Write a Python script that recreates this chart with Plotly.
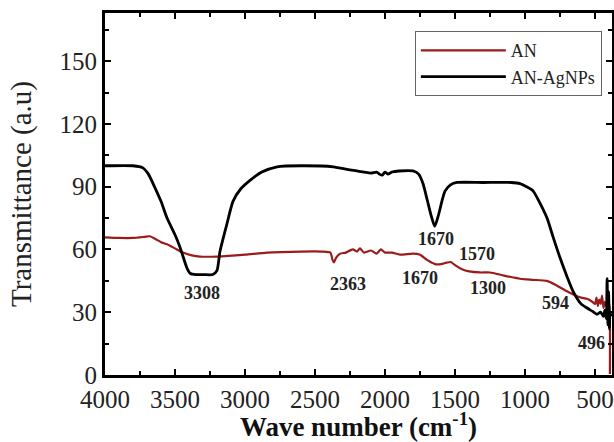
import plotly.graph_objects as go

# ---- data (wavenumber in cm^-1, transmittance a.u.) ----
an_wn = [4000, 3900, 3800, 3720, 3679, 3640, 3600, 3557, 3500, 3443, 3380, 3321, 3200,
         3000, 2843, 2600, 2450, 2390, 2375, 2365, 2350, 2320, 2280, 2230, 2200, 2179,
         2150, 2100, 2060, 2030, 2000, 1950, 1893, 1800, 1750, 1700, 1643, 1600, 1560,
         1530, 1500, 1450, 1400, 1321, 1250, 1150, 1036, 950, 843, 780, 700, 640, 600,
         557, 520, 500, 490, 480, 470, 460, 450, 440, 430, 420, 410, 400, 395, 394]
an_t = [65.8, 65.5, 65.5, 66.0, 66.3, 65.0, 63.5, 62.5, 60.5, 58.5, 57.2, 56.6, 56.6,
        57.5, 58.5, 59.0, 59.0, 58.5, 55.0, 53.8, 56.0, 58.0, 58.5, 60.0, 59.0, 60.5,
        58.5, 59.5, 58.0, 60.0, 58.5, 58.5, 57.5, 58.0, 57.5, 55.0, 53.0, 53.0, 53.7,
        54.0, 52.5, 50.5, 49.5, 49.0, 49.0, 47.5, 46.0, 45.5, 45.0, 43.0, 40.0, 38.0, 37.0,
        36.4, 35.0, 34.0, 37.0, 33.0, 36.0, 34.0, 38.0, 32.0, 35.0, 33.0, 36.0, 34.0, 31.0, 0.5]

ag_wn = [4000, 3800, 3730, 3690, 3657, 3600, 3557, 3500, 3464, 3414, 3390, 3350, 3300,
         3230, 3200, 3179, 3130, 3086, 3030, 2964, 2880, 2771, 2600, 2370, 2250, 2150,
         2100, 2060, 2040, 2020, 2000, 1980, 1950, 1900, 1800, 1760, 1729, 1700, 1670,
         1645, 1620, 1590, 1571, 1530, 1486, 1300, 1100, 1036, 990, 943, 900, 843, 800,
         750, 700, 657, 600, 557, 520, 486, 460, 440, 430, 420, 414, 408, 403, 398, 393, 385]
ag_t = [100.0, 100.0, 99.0, 96.0, 91.5, 83.0, 75.0, 67.0, 61.0, 51.0, 48.5, 48.0, 48.0,
        48.0, 50.0, 59.0, 72.0, 83.0, 89.0, 93.0, 97.0, 99.5, 100.0, 99.5, 98.0, 97.0,
        96.5, 97.0, 96.0, 95.5, 97.0, 96.0, 97.0, 97.5, 97.5, 96.0, 91.5, 84.0, 76.0,
        71.0, 76.0, 84.0, 88.0, 91.0, 92.0, 92.0, 92.0, 91.5, 90.0, 88.0, 83.0, 75.0, 66.0,
        56.0, 47.0, 40.0, 34.0, 32.0, 30.5, 29.0, 30.0, 28.0, 31.0, 27.0, 46.0, 24.0, 40.0, 22.0, 30.0, 28.0]

series_names = ["AN", "AN-AgNPs"]

peak_labels = ["3308", "2363", "1670", "1570", "1670", "1300", "594", "496"]
peak_wn = [3307, 2264, 1636, 1343, 1750, 1264, 779, 529]
peak_t = [39.0, 43.6, 65.0, 58.0, 46.5, 41.7, 34.5, 15.3]

x_ticks = [4000, 3500, 3000, 2500, 2000, 1500, 1000, 500]
x_tick_text = ["4000", "3500", "3000", "2500", "2000", "1500", "1000", "500"]
y_ticks = [0, 30, 60, 90, 120, 150]

SERIF = "Liberation Serif, Times New Roman, serif"

fig = go.Figure()
fig.add_trace(go.Scatter(x=an_wn, y=an_t, mode="lines", name=series_names[0],
                         line=dict(color="#9b1b1b", width=2.2, shape="spline", smoothing=0.6)))
fig.add_trace(go.Scatter(x=ag_wn, y=ag_t, mode="lines", name=series_names[1],
                         line=dict(color="#000000", width=2.8, shape="spline", smoothing=0.6)))

for txt, xv, yv in zip(peak_labels, peak_wn, peak_t):
    fig.add_annotation(x=xv, y=yv, text=txt, showarrow=False,
                       font=dict(family=SERIF, size=18, color="#222222", weight="bold"))

axis_common = dict(
    showline=True, linecolor="black", linewidth=3, mirror="allticks",
    ticks="inside", ticklen=6, tickwidth=2, tickcolor="black",
    showgrid=False, zeroline=False, automargin=False,
    tickfont=dict(family=SERIF, size=25, color="#222222"),
)

fig.update_xaxes(
    range=[4000, 379], tickvals=x_ticks, ticktext=x_tick_text,
    minor=dict(dtick=250, ticks="inside", ticklen=4, tickwidth=2, tickcolor="black", showgrid=False),
    title=dict(text="<b>Wave number (cm<sup>-1</sup>)</b>", standoff=4,
               font=dict(family=SERIF, size=27, color="#111111")),
    **axis_common,
)
fig.update_yaxes(
    range=[0, 173], tickvals=y_ticks,
    minor=dict(dtick=15, ticks="inside", ticklen=4, tickwidth=2, tickcolor="black", showgrid=False),
    title=dict(text="Transmittance (a.u)", standoff=20,
               font=dict(family=SERIF, size=29, color="#222222")),
    **axis_common,
)

fig.update_layout(
    width=614, height=442,
    margin=dict(l=105, r=2, t=13, b=67),
    plot_bgcolor="white", paper_bgcolor="white",
    showlegend=True,
    legend=dict(x=0.98, y=0.95, xanchor="right", yanchor="top",
                bgcolor="white", bordercolor="#666666", borderwidth=1,
                font=dict(family=SERIF, size=18, color="#222222"),
                itemwidth=85, tracegroupgap=0),
)

fig.write_html("out.html", config={"displayModeBar": False},
               post_script="document.body.style.margin='0';document.body.style.overflow='hidden';")
